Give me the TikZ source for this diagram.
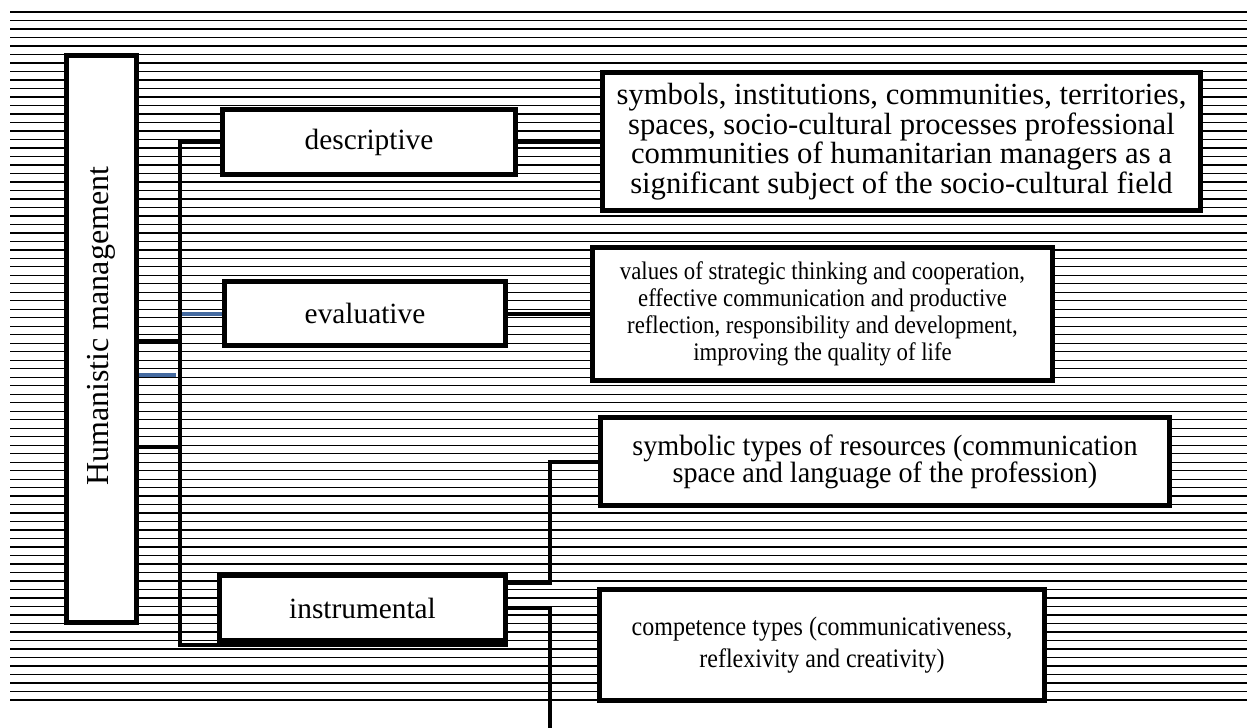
\documentclass[tikz,border=0pt]{standalone}
\usepackage{fontspec}
\setmainfont{Liberation Serif}
\newfontfamily\narrowfont[FakeStretch=0.9]{Liberation Serif}
\newfontfamily\slimfont[FakeStretch=0.96]{Liberation Serif}
\definecolor{linkblue}{RGB}{68,106,160}

\begin{document}
\begin{tikzpicture}[x=0.75pt,y=-0.75pt,
    box/.style={draw,line width=3.75pt,fill=white,inner sep=0pt,align=center},
    smallbox/.style={box,font=\fontsize{22}{26}\selectfont},
    link/.style={line width=3pt},
    bluelink/.style={line width=3pt,draw=linkblue},
    bgline/.style={line width=1pt}]
  \useasboundingbox (0,0) rectangle (1247,728);

  % striped background
  \foreach \i in {0,...,81}
    \draw[bgline] (10,{12+8.494*\i}) -- (1247,{12+8.494*\i});

  % left column
  \node[box,minimum width=52.5pt,minimum height=425.25pt,font=\fontsize{24}{28}\selectfont]
    (hm) at (101.5,339) {\rotatebox{90}{\hspace{19pt}Humanistic management}};
  \node[smallbox,minimum width=219.75pt,minimum height=48.75pt] (desc) at (369,142) {descriptive};
  \node[smallbox,minimum width=210.75pt,minimum height=48pt] (eval) at (365,313.5) {evaluative};
  \node[smallbox,minimum width=214.5pt,minimum height=48.75pt] (instr) at (362.5,608) {instrumental};

  % right column
  \node[box,minimum width=448.5pt,minimum height=103.5pt,font=\fontsize{23}{21}\selectfont]
    (d1) at (901.5,141.5)
    {symbols, institutions, communities, territories,\\ spaces, socio-cultural processes professional\\
     communities of humanitarian managers as a\\ significant subject of the socio-cultural field};
  \node[box,minimum width=345pt,minimum height=99.75pt,font=\narrowfont\fontsize{19}{20.3}\selectfont]
    (v1) at (822.5,314)
    {values of strategic thinking and cooperation,\\ effective communication and productive\\
     reflection, responsibility and development,\\ improving the quality of life};
  \node[box,minimum width=426.75pt,minimum height=66pt,font=\slimfont\fontsize{22}{20.3}\selectfont]
    (s1) at (885,461.5)
    {symbolic types of resources (communication\\ space and language of the profession)};
  \node[box,minimum width=333.75pt,minimum height=83.25pt,font=\narrowfont\fontsize{20}{23.5}\selectfont]
    (c1) at (822,645)
    {competence types (communicativeness,\\ reflexivity and creativity)};

  % bus and links
  \coordinate (bustop) at (180,142);
  \coordinate (busend) at (180,645);
  \coordinate (j1) at (180,341);
  \coordinate (j2) at (180,447);
  \coordinate (b1) at (176,375);
  \coordinate (b2) at (182,314);
  \coordinate (k1) at (550,583);
  \coordinate (k2) at (550,462);
  \coordinate (k3) at (550,608);
  \coordinate (tail) at (550,728);
  \draw[link] (desc.west) -- (bustop) -- (busend) -- (busend -| instr.east);
  \draw[link] (j1 -| hm.east) -- (j1);
  \draw[link] (j2 -| hm.east) -- (j2);
  \draw[bluelink] (b1 -| hm.east) -- (b1);
  \draw[bluelink] (b2) -- (b2 -| eval.west);
  \draw[link] (desc.east) -- (d1.west |- desc.east);
  \draw[link] (eval.east) -- (v1.west |- eval.east);
  \draw[link] (k1 -| instr.east) -- (k1) -- (k2) -- (k2 -| s1.west);
  \draw[link] (k3 -| instr.east) -- (k3) -- (tail);
\end{tikzpicture}
\end{document}
